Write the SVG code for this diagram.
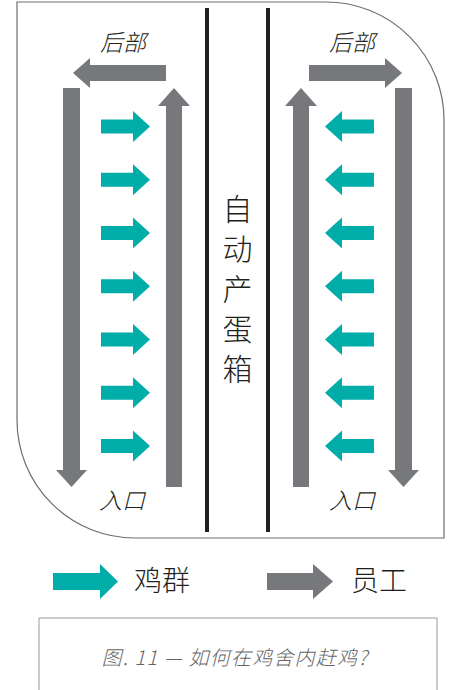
<svg xmlns="http://www.w3.org/2000/svg" width="452" height="690" viewBox="0 0 452 690">
<style>
.teal{fill:#00ADA8}
.gray{fill:#77787B}
.wall{stroke:#231F20;stroke-width:4;fill:none}
.lbl{font-family:"Noto Sans CJK SC","Noto Sans",sans-serif;fill:#231F20;font-weight:300}
.it{font-style:italic}
</style>
<defs>
<path id="tr" d="M0,-7 H32 V-15.5 L49,0 L32,15.5 V7 H0 Z"/>
<path id="tl" d="M49,-7 H17 V-15.5 L0,0 L17,15.5 V7 H49 Z"/>
</defs>
<rect width="452" height="690" fill="#fff"/>
<g id="house">
<path d="M17,2 H326 A118,118 0 0 1 444,120 V538 H135 A118,118 0 0 1 17,420 Z" fill="none" stroke="#6d6e71" stroke-width="1.2"/>
</g>
<g id="nest-box">
<line class="wall" x1="207" y1="8" x2="207" y2="532"/>
<line class="wall" x1="268" y1="8" x2="268" y2="532"/>
<g class="lbl" font-size="30" text-anchor="middle">
<text x="237.5" y="220">自</text>
<text x="237.5" y="260">动</text>
<text x="237.5" y="300">产</text>
<text x="237.5" y="340">蛋</text>
<text x="237.5" y="380">箱</text>
</g>
</g>
<g id="labels" class="lbl it" font-size="23" text-anchor="middle">
<text x="123" y="51">后部</text>
<text x="352" y="51">后部</text>
<text x="122" y="509">入口</text>
<text x="352" y="509">入口</text>
</g>
<g id="connectors">
<g id="staff-left" class="gray">
<path d="M166,65 H90 V58 L73,73 L90,88 V81 H166 Z"/>
<path d="M63,88 H80 V470 H87 L71.5,487 L56,470 H63 Z"/>
<path d="M166,487 V106 H158 L174,88 L190,106 H182 V487 Z"/>
</g>
<g id="staff-right" class="gray">
<path d="M309,65 H385 V58 L402,73 L385,88 V81 H309 Z"/>
<path d="M395,88 H412 V470 H419 L403.5,487 L388,470 H395 Z"/>
<path d="M309,487 V106 H317 L301,88 L285,106 H293 V487 Z"/>
</g>
<g id="flock-left" class="teal">
<use href="#tr" x="101" y="126.5"/>
<use href="#tr" x="101" y="179.75"/>
<use href="#tr" x="101" y="233"/>
<use href="#tr" x="101" y="286.25"/>
<use href="#tr" x="101" y="339.5"/>
<use href="#tr" x="101" y="392.75"/>
<use href="#tr" x="101" y="446"/>
</g>
<g id="flock-right" class="teal">
<use href="#tl" x="325" y="126.5"/>
<use href="#tl" x="325" y="179.75"/>
<use href="#tl" x="325" y="233"/>
<use href="#tl" x="325" y="286.25"/>
<use href="#tl" x="325" y="339.5"/>
<use href="#tl" x="325" y="392.75"/>
<use href="#tl" x="325" y="446"/>
</g>
</g>
<g id="legend">
<path class="teal" d="M53,573 H100 V564 L118,581.5 L100,599 V590 H53 Z"/>
<text class="lbl" x="134" y="591" font-size="28">鸡群</text>
<path class="gray" d="M267,573 H313 V564 L333,581.5 L313,599 V590 H267 Z"/>
<text class="lbl" x="351" y="591" font-size="28">员工</text>
</g>
<g id="caption">
<path d="M39,690 V618 H437 V690" fill="none" stroke="#999" stroke-width="1"/>
<text class="lbl it" x="235" y="665" font-size="20" letter-spacing="1.2" text-anchor="middle" style="fill:#666">图. 11 — 如何在鸡舍内赶鸡?</text>
</g>
</svg>
